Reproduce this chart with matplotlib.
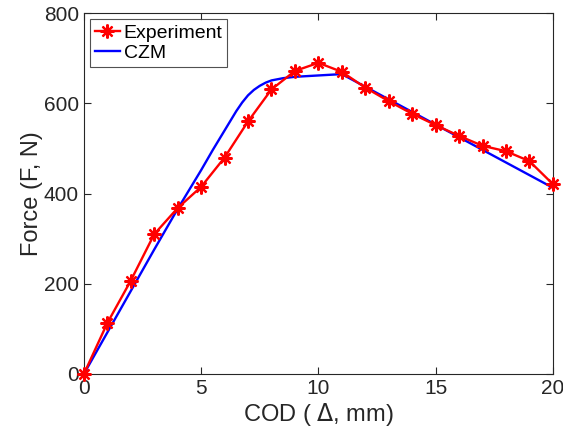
import numpy as np
import matplotlib
matplotlib.use('Agg')
import matplotlib.pyplot as plt

plt.rcParams['font.family'] = ['Liberation Sans', 'DejaVu Sans']

# experiment: crack opening displacement vs force
cod_exp = list(range(0, 21))
force_exp = [0, 113, 207, 310, 368, 415, 480, 560, 631, 672, 690,
             670, 635, 605, 577, 552, 528, 506, 494, 472, 421]

# cohesive zone model curve
cod_czm = [0, 1, 2, 3, 4, 5, 5.5, 6, 6.5, 6.75, 7, 7.25, 7.5, 7.75, 8,
           8.5, 9, 10, 11, 20]
force_czm = [0, 92, 184, 276, 366, 452, 497, 540, 583, 602, 618, 630,
             639, 646, 651, 656, 659, 662, 665, 413]

xticks = [0, 5, 10, 15, 20]
yticks = [0, 200, 400, 600, 800]

fig = plt.figure(figsize=(5.63, 4.41), dpi=100)
ax = fig.add_axes([0.149, 0.152, 0.833, 0.818])

ax.plot(cod_exp, force_exp, color='red', lw=1.7, marker=(8, 2, 0),
        ms=10, mew=1.6, label='Experiment', clip_on=False, zorder=3)
ax.plot(cod_czm, force_czm, color='blue', lw=1.7, label='CZM', zorder=2)

ax.set_xlim(0, 20)
ax.set_ylim(0, 800)
ax.set_xticks(xticks)
ax.set_yticks(yticks)

dark = (0.15, 0.15, 0.15)
for s in ax.spines.values():
    s.set_color(dark)
    s.set_linewidth(0.8)
ax.tick_params(direction='in', top=True, right=True, length=5,
               labelsize=15, colors=dark, width=0.8)
ax.set_xlabel('COD ( $\\Delta$, mm)', fontsize=17, color=dark, labelpad=2)
ax.set_ylabel('Force (F, N)', fontsize=17, color=dark, labelpad=1)

leg = ax.legend(loc='upper left', fontsize=14, frameon=True, fancybox=False,
                edgecolor=dark, handlelength=1.3, handletextpad=0.2,
                borderpad=0.25, labelspacing=0.15, borderaxespad=0.3)
leg.get_frame().set_linewidth(0.8)

fig.savefig('out.png', dpi=100)
